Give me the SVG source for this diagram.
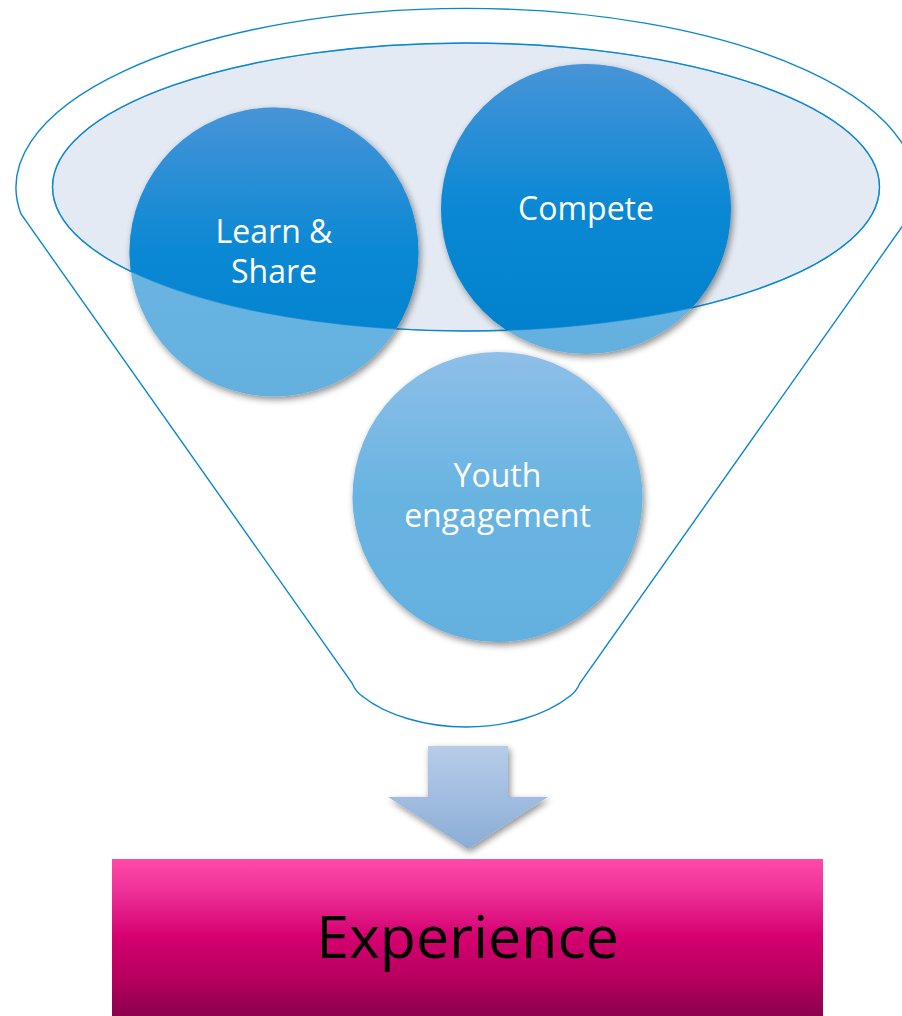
<svg xmlns="http://www.w3.org/2000/svg" width="902" height="1016" viewBox="0 0 902 1016">
  <style>
    .outline { fill: none; stroke: #0a86cf; stroke-width: 1.4; }
    .rim { fill: #e3eaf4; stroke: #0a86cf; stroke-width: 1.4; }
    .rim-line { fill: none; stroke: #0a86cf; stroke-width: 1.2; opacity: 0.55; }
    .label { font-family: "Open Sans", "Liberation Sans", sans-serif; font-size: 32px; fill: #ffffff; text-anchor: middle; }
    .big { font-family: "Open Sans", "Liberation Sans", sans-serif; font-size: 59px; fill: #000000; text-anchor: middle; }
  </style>
  <defs>
    <linearGradient id="gLight" x1="0" y1="0" x2="0" y2="1">
      <stop offset="0" stop-color="#8ebfe8"/>
      <stop offset="0.5" stop-color="#68b4e1"/>
      <stop offset="1" stop-color="#64b0df"/>
    </linearGradient>
    <linearGradient id="gDark" x1="0" y1="0" x2="0" y2="1">
      <stop offset="0" stop-color="#4894d7"/>
      <stop offset="0.5" stop-color="#0a88d4"/>
      <stop offset="1" stop-color="#0080cc"/>
    </linearGradient>
    <linearGradient id="gArrow" x1="0" y1="0" x2="0" y2="1">
      <stop offset="0" stop-color="#b7cce9"/>
      <stop offset="1" stop-color="#8badd6"/>
    </linearGradient>
    <linearGradient id="gBox" x1="0" y1="0" x2="0" y2="1">
      <stop offset="0" stop-color="#ff4aa8"/>
      <stop offset="0.2" stop-color="#ef3199"/>
      <stop offset="0.5" stop-color="#d4006f"/>
      <stop offset="0.75" stop-color="#b8005f"/>
      <stop offset="1" stop-color="#8c004e"/>
    </linearGradient>
    <clipPath id="rimClip">
      <ellipse cx="466" cy="187" rx="413.5" ry="144"/>
    </clipPath>
    <filter id="shadow" x="-20%" y="-20%" width="140%" height="140%">
      <feGaussianBlur in="SourceAlpha" stdDeviation="3.5"/>
      <feOffset dx="2" dy="3" result="b"/>
      <feComponentTransfer><feFuncA type="linear" slope="0.45"/></feComponentTransfer>
      <feMerge><feMergeNode/><feMergeNode in="SourceGraphic"/></feMerge>
    </filter>
  </defs>

  <!-- funnel body and rim -->
  <g id="funnel">
    <path class="outline" d="M 21 214 A 450 179 0 1 1 911 214 L 580 683 Q 576 692 570 696 C 545 716 505 727 466 727 C 427 727 387 716 362 696 Q 356 692 352 683 Z"/>
    <ellipse class="rim" cx="466" cy="187" rx="413.5" ry="144"/>
  </g>

  <!-- circles: light base, darker where they sit inside the rim -->
  <g id="learn-share">
    <circle cx="274" cy="252" r="144.5" fill="url(#gLight)" filter="url(#shadow)"/>
    <circle cx="274" cy="252" r="144.5" fill="url(#gDark)" clip-path="url(#rimClip)"/>
  </g>
  <g id="compete">
    <circle cx="586" cy="209" r="145" fill="url(#gLight)" filter="url(#shadow)"/>
    <circle cx="586" cy="209" r="145" fill="url(#gDark)" clip-path="url(#rimClip)"/>
  </g>
  <g id="youth-engagement">
    <circle cx="497.5" cy="497" r="145" fill="url(#gLight)" filter="url(#shadow)"/>
  </g>
  <ellipse class="rim-line" cx="466" cy="187" rx="413.5" ry="144"/>

  <g id="labels">
    <text class="label" x="274" y="243">Learn &amp;</text>
    <text class="label" x="274" y="283">Share</text>
    <text class="label" x="586" y="220">Compete</text>
    <text class="label" x="497.5" y="487">Youth</text>
    <text class="label" x="497.5" y="527">engagement</text>
  </g>

  <!-- flow arrow into the result -->
  <g id="connectors">
    <path d="M 428 746 L 508 746 L 508 797 L 548 797 L 468 849 L 388 797 L 428 797 Z" fill="url(#gArrow)" filter="url(#shadow)"/>
  </g>

  <g id="experience">
    <rect x="112" y="859" width="711" height="157" fill="url(#gBox)"/>
    <text class="big" x="467.5" y="958">Experience</text>
  </g>
</svg>
